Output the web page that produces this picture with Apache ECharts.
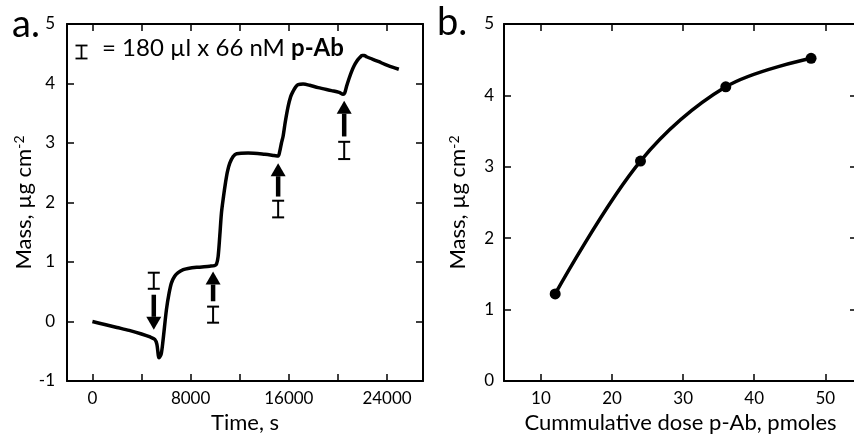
<!DOCTYPE html>
<html>
<head>
<meta charset="utf-8">
<script src="https://cdn.jsdelivr.net/npm/echarts@6/dist/echarts.min.js"></script>
<style>
html,body{margin:0;padding:0;background:#fff;}
#c{width:854px;height:437px;}
</style>
</head>
<body>
<div id="c"></div>
<script>
// ---- Panel a: mass vs time ----
const timeS = [0,1000,2000,3000,4000,4700,5080,5250,5430,5600,5757,6030,6250,6440,6700,6980,7400,7790,8500,9560,9950,10100,10240,10380,10510,10680,10840,11000,11190,11450,11740,12680,14040,14800,15130,15250,15400,15530,15700,15940,16150,16350,16550,16760,17160,17700,18390,19480,20100,20420,20550,20700,20900,21110,21300,21520,21750,21970,22150,22330,22800,23280,24090,24960];
const massA = [0.00,-0.05,-0.10,-0.15,-0.21,-0.26,-0.30,-0.38,-0.61,-0.55,-0.31,0.20,0.48,0.65,0.76,0.82,0.87,0.89,0.91,0.93,0.94,0.96,1.09,1.45,1.82,2.10,2.33,2.52,2.66,2.77,2.82,2.83,2.81,2.79,2.78,2.85,3.00,3.11,3.34,3.61,3.78,3.87,3.94,3.98,3.99,3.97,3.93,3.88,3.85,3.82,3.84,3.95,4.08,4.20,4.29,4.37,4.43,4.47,4.47,4.45,4.41,4.37,4.30,4.24];
const timeTicks = [0,4000,8000,12000,16000,20000,24000];
const timeLabels = [0,8000,16000,24000];
// injection arrows: time, tail value, tip value
const arrowT    = [5000, 9830, 15130, 20510];
const arrowFrom = [0.45, 0.34, 2.10, 3.11];
const arrowTo   = [-0.14, 0.84, 2.66, 3.71];
// dose "I" markers: time, low, high
const doseT  = [5000, 9830, 15130, 20510];
const doseLo = [0.55, -0.02, 1.75, 2.73];
const doseHi = [0.82, 0.25, 2.03, 3.02];

// ---- Panel b: mass vs cumulative dose ----
const doseX = [12, 24, 36, 48];
const massB = [1.22, 3.08, 4.12, 4.52];
const doseTicks = [10,20,30,40,50];

const FONT = 'Lato, "Open Sans", sans-serif';
const chart = echarts.init(document.getElementById('c'), null, {renderer:'canvas'});

function axisLine(){ return {show:true, onZero:false, lineStyle:{color:'#000', width:2}}; }
function ticks(extra){ return Object.assign({show:true, inside:true, length:7, lineStyle:{color:'#000', width:1.5}}, extra||{}); }
function labels(extra){ return Object.assign({color:'#000', fontSize:17, fontFamily:FONT, formatter:(v)=>String(v)}, extra||{}); }
function nameStyleY(){ return {
  color:'#000', fontSize:22, fontFamily:FONT,
  rich:{
    n:{fontSize:22, fontFamily:FONT, color:'#000'},
    s:{fontSize:14, fontFamily:FONT, color:'#000', verticalAlign:'top', padding:[0,0,6,0]}
  }
};}

function renderDose(params, api){
  const p1 = api.coord([api.value(0), api.value(1)]);
  const p2 = api.coord([api.value(0), api.value(2)]);
  const hw = 6;
  const st = {stroke:'#000', lineWidth:2};
  return {type:'group', children:[
    {type:'line', shape:{x1:p1[0], y1:p1[1], x2:p2[0], y2:p2[1]}, style:st},
    {type:'line', shape:{x1:p1[0]-hw, y1:p1[1], x2:p1[0]+hw, y2:p1[1]}, style:st},
    {type:'line', shape:{x1:p2[0]-hw, y1:p2[1], x2:p2[0]+hw, y2:p2[1]}, style:st}
  ]};
}
function renderArrow(params, api){
  const tail = api.coord([api.value(0), api.value(1)]);
  const tip = api.coord([api.value(0), api.value(2)]);
  const dir = tip[1] < tail[1] ? -1 : 1;
  const headLen = 13, headHW = 7.5;
  const baseY = tip[1] - dir*headLen;
  return {type:'group', children:[
    {type:'line', shape:{x1:tail[0], y1:tail[1], x2:tail[0], y2:baseY}, style:{stroke:'#000', lineWidth:4.5}},
    {type:'polygon', shape:{points:[[tip[0], tip[1]],[tip[0]-headHW, baseY],[tip[0]+headHW, baseY]]}, style:{fill:'#000'}}
  ]};
}

const option = {
  animation:false,
  backgroundColor:'#fff',
  textStyle:{fontFamily:FONT},
  grid:[
    {left:67, top:24, width:356, height:357, outerBoundsMode:'none', containLabel:false},
    {left:504, top:24, width:353, height:357, outerBoundsMode:'none', containLabel:false}
  ],
  xAxis:[
    {gridIndex:0, type:'value', min:-2070, max:26930, position:'bottom',
     name:'Time, s', nameLocation:'middle', nameGap:30,
     nameTextStyle:{color:'#000', fontSize:22, fontFamily:FONT},
     axisLine:axisLine(), splitLine:{show:false},
     axisTick:ticks({customValues:timeTicks}),
     axisLabel:labels({margin:9, customValues:timeLabels})},
    {gridIndex:0, type:'value', min:-2070, max:26930, position:'top',
     axisLine:axisLine(), splitLine:{show:false},
     axisTick:ticks({customValues:timeTicks}),
     axisLabel:{show:false}},
    {gridIndex:1, type:'value', min:4.8, max:54.46, position:'bottom',
     name:'Cummulative dose p-Ab, pmoles', nameLocation:'middle', nameGap:29,
     nameTextStyle:{color:'#000', fontSize:22, fontFamily:FONT},
     axisLine:axisLine(), splitLine:{show:false},
     axisTick:ticks({customValues:doseTicks}),
     axisLabel:labels({margin:9, customValues:doseTicks})},
    {gridIndex:1, type:'value', min:4.8, max:54.46, position:'top',
     axisLine:axisLine(), splitLine:{show:false},
     axisTick:ticks({customValues:doseTicks}),
     axisLabel:{show:false}}
  ],
  yAxis:[
    {gridIndex:0, type:'value', min:-1, max:5, interval:1, position:'left',
     name:'{n|Mass, µg cm}{s|-2}', nameLocation:'middle', nameGap:32, nameTextStyle:nameStyleY(),
     axisLine:axisLine(), splitLine:{show:false}, axisTick:ticks(),
     axisLabel:labels({margin:12})},
    {gridIndex:0, type:'value', min:-1, max:5, interval:1, position:'right',
     axisLine:axisLine(), splitLine:{show:false}, axisTick:ticks(), axisLabel:{show:false}},
    {gridIndex:1, type:'value', min:0, max:5, interval:1, position:'left',
     name:'{n|Mass, µg cm}{s|-2}', nameLocation:'middle', nameGap:35, nameTextStyle:nameStyleY(),
     axisLine:axisLine(), splitLine:{show:false}, axisTick:ticks(),
     axisLabel:labels({margin:10})},
    {gridIndex:1, type:'value', min:0, max:5, interval:1, position:'right',
     axisLine:axisLine(), splitLine:{show:false}, axisTick:ticks(), axisLabel:{show:false}}
  ],
  graphic:[
    {type:'text', left:12, top:6, style:{text:'a.', font:'38px '+FONT, fill:'#000'}},
    {type:'text', left:437, top:4, style:{text:'b.', font:'38px '+FONT, fill:'#000'}},
    {type:'group', left:73, top:43, children:[
      {type:'line', shape:{x1:6, y1:0, x2:6, y2:13}, style:{stroke:'#000', lineWidth:1.8}},
      {type:'line', shape:{x1:0, y1:0, x2:12, y2:0}, style:{stroke:'#000', lineWidth:1.8}},
      {type:'line', shape:{x1:0, y1:13, x2:12, y2:13}, style:{stroke:'#000', lineWidth:1.8}}
    ]},
    {type:'text', left:102, top:36, style:{
      text:'{n|= 180 µl x 66 nM }{b|p-Ab}',
      rich:{n:{fontSize:24, fontFamily:FONT, fill:'#000'}, b:{fontSize:24, fontFamily:FONT, fontWeight:'bold', fill:'#000'}}
    }}
  ],
  series:[
    {type:'line', xAxisIndex:0, yAxisIndex:0, data:timeS.map((t,i)=>[t, massA[i]]),
     showSymbol:false, smooth:0.3, lineStyle:{color:'#000', width:3.5}},
    // annotations on the frame axes (same scales as the primary axes)
    {type:'custom', xAxisIndex:1, yAxisIndex:1, renderItem:renderArrow,
     data:arrowT.map((t,i)=>[t, arrowFrom[i], arrowTo[i]]), z:5},
    {type:'custom', xAxisIndex:1, yAxisIndex:1, renderItem:renderDose,
     data:doseT.map((t,i)=>[t, doseLo[i], doseHi[i]]), z:5},
    {type:'line', xAxisIndex:2, yAxisIndex:2, data:doseX.map((d,i)=>[d, massB[i]]),
     showSymbol:false, smooth:0.35, lineStyle:{color:'#000', width:3.5}},
    {type:'scatter', xAxisIndex:3, yAxisIndex:3, data:doseX.map((d,i)=>[d, massB[i]]),
     symbol:'circle', symbolSize:11, itemStyle:{color:'#000', opacity:1}, z:5}
  ]
};
chart.setOption(option);
</script>
</body>
</html>
